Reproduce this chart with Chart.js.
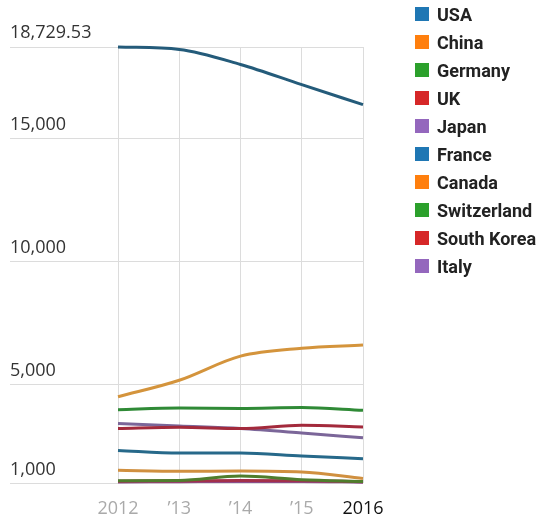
<!DOCTYPE html>
<html>
<head>
<meta charset="utf-8">
<script src="https://cdn.jsdelivr.net/npm/chart.js@4/dist/chart.umd.min.js"></script>
<style>
  body { margin: 0; background: #fff; }
  #wrap { position: relative; width: 560px; height: 524px; }
  #legend { position: absolute; left: 415px; top: 7px; font: bold 18px Roboto, "Liberation Sans", sans-serif; color: #222; }
  .chart-legend-item { display: flex; align-items: center; height: 28px; margin-top: -7px; margin-bottom: 7px; }
  .chart-legend-indicator { display: inline-block; width: 14px; height: 14px; margin-right: 8px; }
</style>
</head>
<body>
<div id="wrap">
  <canvas id="chart"></canvas>
  <div id="legend"></div>
</div>
<script>
// years and tick labels
let years = ["2012", "2013", "2014", "2015", "2016"];
let yearLabels = ["2012", "\u201913", "\u201914", "\u201915", "2016"];
let yTicks = [1000, 5000, 10000, 15000, 18729.53];

let countries = ["USA", "China", "Germany", "UK", "Japan", "France", "Canada", "Switzerland", "South Korea", "Italy"];

// values
let usa = [18729.53, 18630, 18020, 17200, 16390];
let china = [4520, 5190, 6170, 6490, 6620];
let germany = [3990, 4060, 4040, 4080, 3970];
let uk = [3230, 3280, 3230, 3360, 3290];
let japan = [3430, 3330, 3230, 3050, 2850];
let france = [2340, 2235, 2235, 2110, 2005];
let canada = [1530, 1490, 1500, 1460, 1200];
let switzerland = [1110, 1120, 1300, 1150, 1080];
let southKorea = [1090, 1100, 1120, 1110, 1070];
let italy = [1060, 1070, 1080, 1080, 1050];

//legend colors (boxes) and line colors
let colorLegend = ["#1f77b4", "#ff7f0e", "#2ca02c", "#d62728", "#9467bd", "#1f77b4", "#ff7f0e", "#2ca02c", "#d62728", "#9467bd"];
let colorLine = ["#245b7a", "#d4943c", "#2f8a36", "#a32a3c", "#7b6699", "#27698a", "#d09040", "#4f7d2c", "#a3304a", "#8a4f8f"];

let series = [usa, china, germany, uk, japan, france, canada, switzerland, southKorea, italy];

let datasets = series.map(function (values, i) {
  return {
    label: countries[i],
    data: values,
    borderColor: colorLine[i],
    backgroundColor: colorLegend[i],
    borderWidth: 3,
    pointRadius: 0,
    cubicInterpolationMode: "monotone",
    clip: false,
  };
});

let chart = new Chart(document.getElementById("chart"), {
  type: "line",
  data: { labels: yearLabels, datasets: datasets },
  options: {
    responsive: true,
    maintainAspectRatio: false,
    animation: false,
    layout: { padding: { left: 10, right: 197, top: 47, bottom: -11 } },
    plugins: { legend: { display: false }, tooltip: { enabled: false } },
    scales: {
      x: {
        grid: { color: "#dcdcdc", drawTicks: false },
        border: { display: false },
        ticks: {
          autoSkip: false,
          maxRotation: 0,
          padding: 15,
          font: { family: "'Open Sans'", size: 18 },
          color: function (ctx) { return ctx.index === yearLabels.length - 1 ? "#111" : "#aaa"; },
        },
      },
      y: {
        min: yTicks[0],
        max: yTicks[yTicks.length - 1],
        afterBuildTicks: function (scale) {
          scale.ticks = yTicks.map(function (v) { return { value: v }; });
        },
        afterFit: function (scale) { scale.width = 108; },
        grid: { color: "#dcdcdc", drawTicks: true, tickLength: 108 },
        border: { display: false },
        ticks: {
          crossAlign: "far",
          labelOffset: -14,
          font: { family: "'Open Sans'", size: 18 },
          color: "#333",
          callback: function (v) { return Number(v).toLocaleString("en-US"); },
        },
      },
    },
  },
});

// legend html
let content = "";
chart.data.datasets.forEach(function (ds) {
  content += '<div class="chart-legend-item">';
  content += '<i class="chart-legend-indicator" style="background-color: ' + ds.backgroundColor + '"></i>';
  content += ds.label;
  content += "</div>";
});
document.getElementById("legend").innerHTML = content;
</script>
</body>
</html>
